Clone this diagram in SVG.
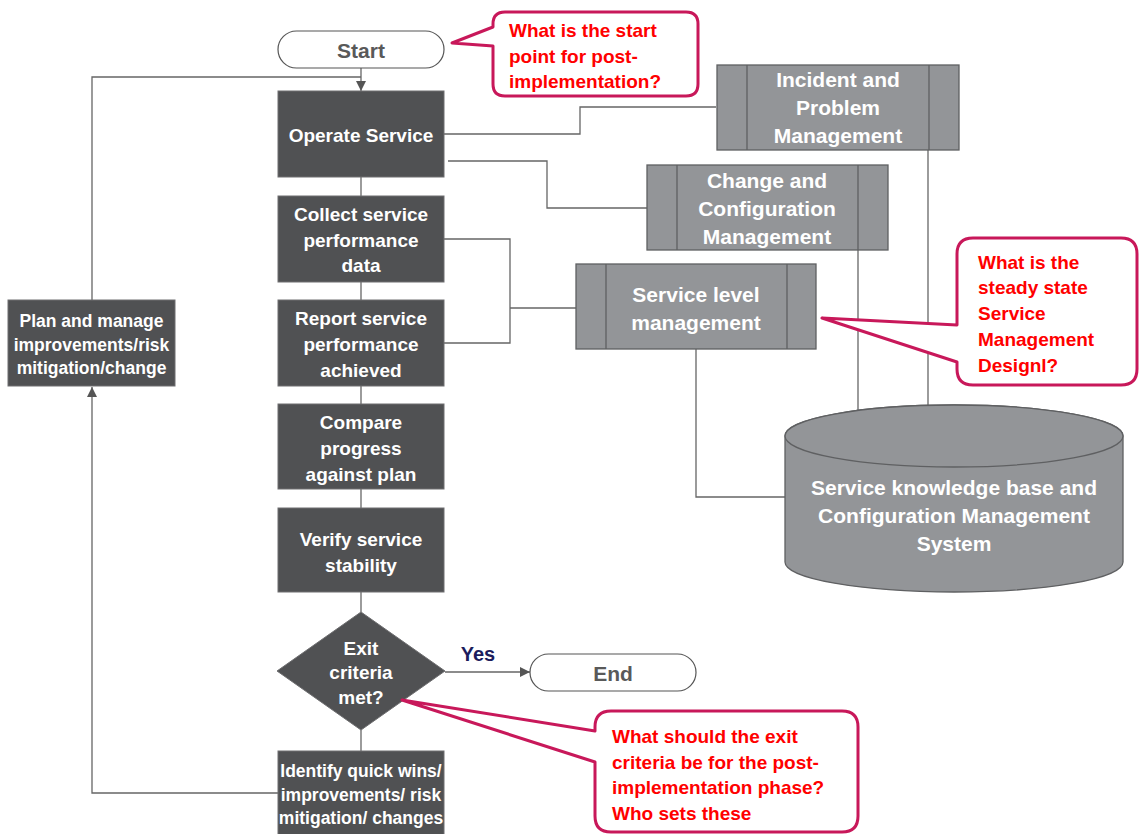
<svg xmlns="http://www.w3.org/2000/svg" width="1139" height="834" viewBox="0 0 1139 834">
<defs>
<style>
.dk{fill:#505153;stroke:#6e6e70;stroke-width:1}
.gb{fill:#939598;stroke:#5f6062;stroke-width:1.3}
.gl{stroke:#5f6062;stroke-width:1.3;fill:none}
.pill{fill:#fff;stroke:#555;stroke-width:1.2}
.con{fill:none;stroke:#666;stroke-width:1.3}
.wt{font-family:"Liberation Sans",Arial,sans-serif;font-weight:bold;fill:#fff;text-anchor:middle}
.f19{font-size:19px}
.f175{font-size:17.5px}
.f21{font-size:21px}
.pt{font-family:"Liberation Sans",Arial,sans-serif;font-weight:bold;font-size:21px;fill:#595959;text-anchor:middle}
.rt{font-family:"Liberation Sans",Arial,sans-serif;font-weight:bold;font-size:19px;fill:#ff0000}
.co{fill:#fff;stroke:#c8185a;stroke-width:3;stroke-linejoin:round}
</style>
<marker id="ah" viewBox="0 0 10 10" refX="10" refY="5" markerWidth="10" markerHeight="10" markerUnits="userSpaceOnUse" orient="auto">
<path d="M0,0 L10,5 L0,10 Z" fill="#555"/>
</marker>
</defs>
<rect width="1139" height="834" fill="#fff"/>

<g id="connectors">
<line class="con" x1="361" y1="68" x2="361" y2="91" marker-end="url(#ah)"/>
<path class="con" d="M92,300 V77 H361"/>
<line class="con" x1="361" y1="177" x2="361" y2="196"/>
<line class="con" x1="361" y1="282" x2="361" y2="300"/>
<line class="con" x1="361" y1="386" x2="361" y2="404"/>
<line class="con" x1="361" y1="489" x2="361" y2="508"/>
<line class="con" x1="361" y1="592" x2="361" y2="612"/>
<line class="con" x1="361" y1="730" x2="361" y2="751"/>
<path class="con" d="M278,793 H92 V387" marker-end="url(#ah)"/>
<line class="con" x1="445" y1="672" x2="530" y2="672" marker-end="url(#ah)"/>
<path class="con" d="M444,134 H580 V107 H716"/>
<path class="con" d="M448,161 H547 V208 H647"/>
<path class="con" d="M444,239 H510 V343 H444"/>
<path class="con" d="M510,308 H576"/>
<path class="con" d="M696,349 V497 H785"/>
<path class="con" d="M858,250 V410"/>
<path class="con" d="M928,150 V410"/>
</g>

<g id="start">
<rect class="pill" x="278" y="31" width="166" height="37" rx="18.5"/>
<text class="pt" x="361" y="58">Start</text>
</g>

<g id="operate">
<rect class="dk" x="278" y="91" width="166" height="86"/>
<text class="wt f19" x="361" y="142">Operate Service</text>
</g>

<g id="collect">
<rect class="dk" x="278" y="196" width="166" height="86"/>
<text class="wt f19" x="361" y="221">Collect service</text>
<text class="wt f19" x="361" y="247">performance</text>
<text class="wt f19" x="361" y="272">data</text>
</g>

<g id="report">
<rect class="dk" x="278" y="300" width="166" height="86"/>
<text class="wt f19" x="361" y="325">Report service</text>
<text class="wt f19" x="361" y="351">performance</text>
<text class="wt f19" x="361" y="377">achieved</text>
</g>

<g id="compare">
<rect class="dk" x="278" y="404" width="166" height="85"/>
<text class="wt f19" x="361" y="429">Compare</text>
<text class="wt f19" x="361" y="455">progress</text>
<text class="wt f19" x="361" y="481">against plan</text>
</g>

<g id="verify">
<rect class="dk" x="278" y="508" width="166" height="84"/>
<text class="wt f19" x="361" y="546">Verify service</text>
<text class="wt f19" x="361" y="572">stability</text>
</g>

<g id="decision">
<polygon class="dk" points="361,612 445,671 361,730 277,671"/>
<text class="wt f19" x="361" y="655">Exit</text>
<text class="wt f19" x="361" y="679">criteria</text>
<text class="wt f19" x="361" y="704">met?</text>
</g>

<g id="yes-label">
<text x="478" y="661" font-family="Liberation Sans,Arial,sans-serif" font-weight="bold" font-size="20" fill="#1c1c5c" text-anchor="middle">Yes</text>
</g>

<g id="end">
<rect class="pill" x="530" y="654" width="166" height="37" rx="18.5"/>
<text class="pt" x="613" y="681">End</text>
</g>

<g id="identify">
<rect class="dk" x="278" y="751" width="166" height="84"/>
<text class="wt f175" x="361" y="777">Identify quick wins/</text>
<text class="wt f175" x="361" y="801">improvements/ risk</text>
<text class="wt f175" x="361" y="824">mitigation/ changes</text>
</g>

<g id="plan">
<rect class="dk" x="8" y="300" width="167" height="86"/>
<text class="wt f175" x="91.5" y="327">Plan and manage</text>
<text class="wt f175" x="91.5" y="351">improvements/risk</text>
<text class="wt f175" x="91.5" y="374">mitigation/change</text>
</g>

<g id="incident">
<rect class="gb" x="717" y="65" width="242" height="85"/>
<line class="gl" x1="747" y1="65" x2="747" y2="150"/>
<line class="gl" x1="929" y1="65" x2="929" y2="150"/>
<text class="wt f21" x="838" y="87">Incident and</text>
<text class="wt f21" x="838" y="115">Problem</text>
<text class="wt f21" x="838" y="143">Management</text>
</g>

<g id="change">
<rect class="gb" x="647" y="165" width="241" height="85"/>
<line class="gl" x1="677" y1="165" x2="677" y2="250"/>
<line class="gl" x1="858" y1="165" x2="858" y2="250"/>
<text class="wt f21" x="767" y="188">Change and</text>
<text class="wt f21" x="767" y="216">Configuration</text>
<text class="wt f21" x="767" y="244">Management</text>
</g>

<g id="slm">
<rect class="gb" x="576" y="264" width="240" height="85"/>
<line class="gl" x1="606" y1="264" x2="606" y2="349"/>
<line class="gl" x1="787" y1="264" x2="787" y2="349"/>
<text class="wt f21" x="696" y="302">Service level</text>
<text class="wt f21" x="696" y="330">management</text>
</g>

<g id="skb">
<path class="gb" d="M785,436 V562 A169,30 0 0 0 1123,562 V436 A169,31 0 0 0 785,436 Z"/>
<ellipse class="gb" cx="954" cy="436" rx="169" ry="31"/>
<text class="wt f21" x="954" y="495">Service knowledge base and</text>
<text class="wt f21" x="954" y="523">Configuration Management</text>
<text class="wt f21" x="954" y="551">System</text>
</g>

<g id="callout-start">
<path class="co" d="M505,12 H686 Q698,12 698,24 V84 Q698,96 686,96 H505 Q493,96 493,84 V46 L452,43 L493,27 V24 Q493,12 505,12 Z"/>
<text class="rt" x="509" y="37">What is the start</text>
<text class="rt" x="509" y="63">point for post-</text>
<text class="rt" x="509" y="88">implementation?</text>
</g>

<g id="callout-steady">
<path class="co" d="M973,238 H1121 Q1137,238 1137,254 V369 Q1137,385 1121,385 H973 Q957,385 957,369 V362 L822,318 L957,325 V254 Q957,238 973,238 Z"/>
<text class="rt" x="978" y="269">What is the</text>
<text class="rt" x="978" y="294">steady state</text>
<text class="rt" x="978" y="320">Service</text>
<text class="rt" x="978" y="346">Management</text>
<text class="rt" x="978" y="372">Designl?</text>
</g>

<g id="callout-exit">
<path class="co" d="M611,711 H842 Q858,711 858,727 V816 Q858,832 842,832 H611 Q595,832 595,816 V762 L402,700 L595,731 V727 Q595,711 611,711 Z"/>
<text class="rt" x="612" y="743">What should the exit</text>
<text class="rt" x="612" y="769">criteria be for the post-</text>
<text class="rt" x="612" y="794">implementation phase?</text>
<text class="rt" x="612" y="820">Who sets these</text>
</g>
</svg>
